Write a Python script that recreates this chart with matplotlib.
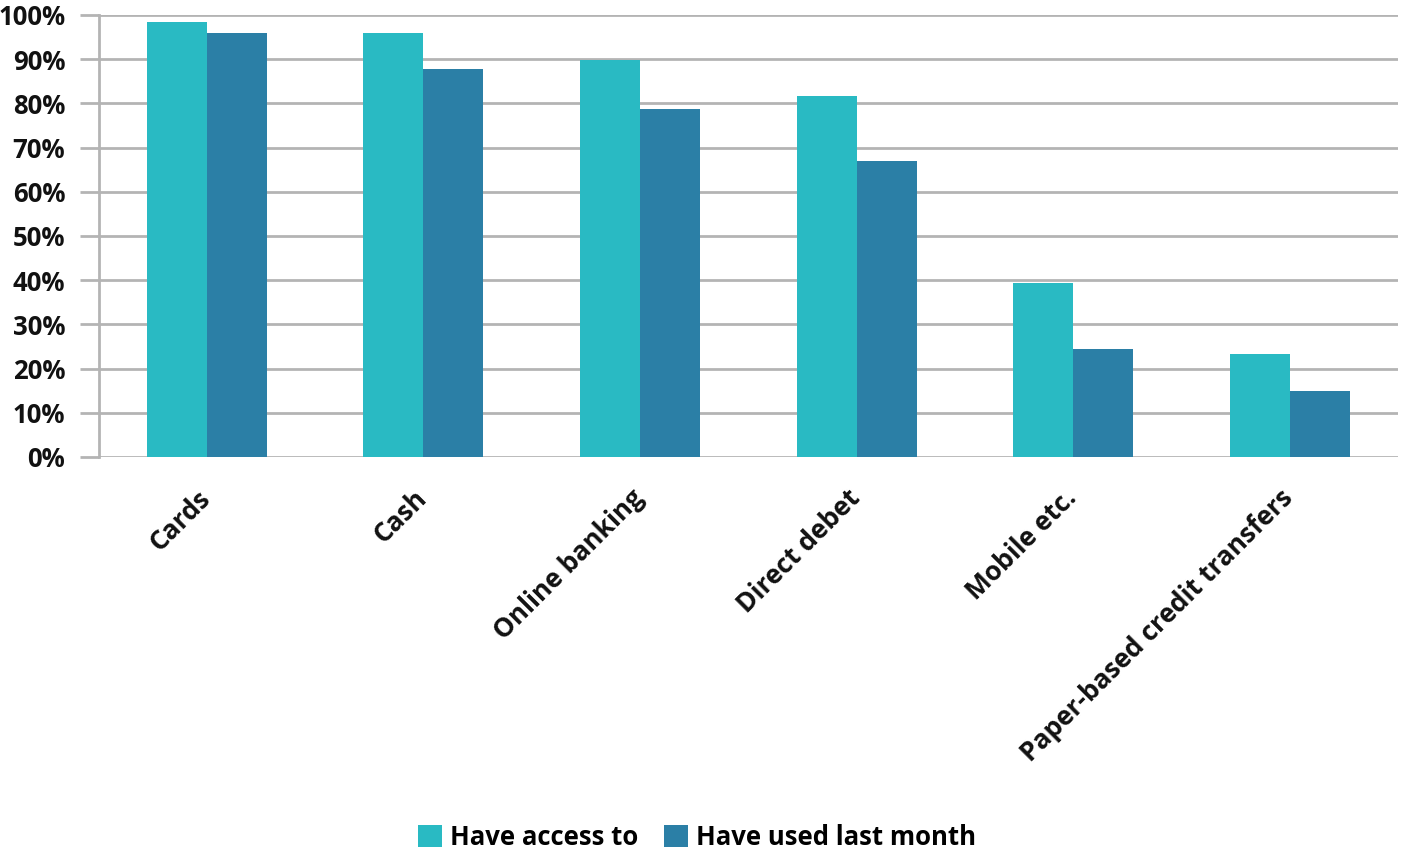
import matplotlib.pyplot as plt
import matplotlib.transforms as mtransforms
import numpy as np

# -- Data --
categories = ["Cards", "Cash", "Online banking", "Direct debet", "Mobile etc.",
              "Paper-based credit transfers"]
have_access = [98.4, 96.0, 89.8, 81.7, 39.4, 23.3]
used_last_month = [95.9, 87.8, 78.7, 67.0, 24.4, 14.9]
series_names = ["Have access to", "Have used last month"]

plt.rcParams['font.family'] = ['Open Sans', 'DejaVu Sans']
plt.rcParams['font.weight'] = 'bold'

teal = '#29BAC3'
blue = '#2B7FA6'
grid_gray = '#B4B4B4'

fig = plt.figure(figsize=(14.05, 8.5), dpi=100)
ax = fig.add_axes([0.0702, 0.4624, 0.9248, 0.52])

x = np.arange(len(categories))
w = 0.277
ax.bar(x - w / 2, have_access, w, color=teal, label=series_names[0], zorder=3)
ax.bar(x + w / 2, used_last_month, w, color=blue, label=series_names[1], zorder=3)

ax.set_xlim(-0.5, len(categories) - 0.5)
ax.set_ylim(0, 100)
ax.set_yticks(np.arange(0, 101, 10))
ax.set_yticklabels([f"{v}%" for v in range(0, 101, 10)])
ax.yaxis.grid(True, color=grid_gray, linewidth=2, zorder=0)

for s in ['top', 'right', 'bottom']:
    ax.spines[s].set_visible(False)
ax.spines['left'].set_color(grid_gray)
ax.spines['left'].set_linewidth(2)

ax.tick_params(axis='y', length=14, width=2, color=grid_gray, labelsize=18.5,
               pad=10, labelcolor='#111111')
ax.tick_params(axis='x', length=0, pad=20)
ax.set_xticks(x)
ax.set_xticklabels(categories, rotation=45, ha='right', rotation_mode='anchor',
                   fontsize=19, color='#111111')
shift = mtransforms.ScaledTranslation(-10 / 100, 0, fig.dpi_scale_trans)
for lbl in ax.get_xticklabels():
    lbl.set_transform(lbl.get_transform() + shift)

leg = fig.legend(loc='lower center', bbox_to_anchor=(0.496, -0.028), ncol=2,
                 frameon=False, fontsize=18.5, handlelength=0.95, handleheight=0.95,
                 handletextpad=0.3, columnspacing=1.0)

fig.savefig('out.png', dpi=100)
